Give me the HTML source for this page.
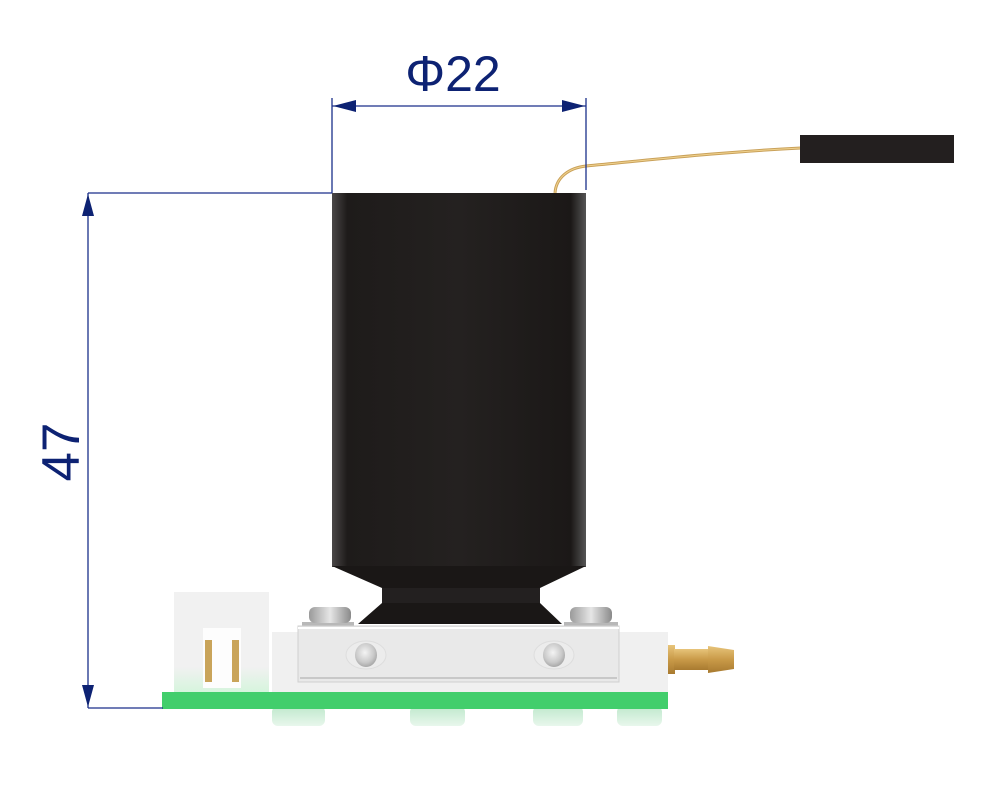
<!DOCTYPE html>
<html><head><meta charset="utf-8"><style>
html,body{margin:0;padding:0;background:#fff;width:1000px;height:800px;overflow:hidden}
svg{display:block}
</style></head><body>
<svg width="1000" height="800" viewBox="0 0 1000 800" xmlns="http://www.w3.org/2000/svg">
<defs>
<linearGradient id="cyl" x1="0" x2="1" y1="0" y2="0">
<stop offset="0" stop-color="#4a4747"/><stop offset="0.06" stop-color="#1e1b1a"/>
<stop offset="0.5" stop-color="#242120"/><stop offset="0.94" stop-color="#1b1817"/><stop offset="1" stop-color="#555"/>
</linearGradient>
<linearGradient id="brass" x1="0" x2="0" y1="0" y2="1">
<stop offset="0" stop-color="#e7c47a"/><stop offset="0.5" stop-color="#c99a48"/><stop offset="1" stop-color="#a87a30"/>
</linearGradient>
<linearGradient id="scr" x1="0" x2="1" y1="0" y2="0">
<stop offset="0" stop-color="#9a9a9a"/><stop offset="0.5" stop-color="#e6e6e6"/><stop offset="1" stop-color="#8a8a8a"/>
</linearGradient>
<linearGradient id="foot" x1="0" x2="0" y1="0" y2="1">
<stop offset="0" stop-color="#bfe8cc"/><stop offset="1" stop-color="#e8f7ec"/>
</linearGradient>
<linearGradient id="hous" x1="0" x2="0" y1="0" y2="1">
<stop offset="0.75" stop-color="#f1f1f1"/><stop offset="1" stop-color="#d6f5dd"/>
</linearGradient>
<radialGradient id="bump" cx="0.45" cy="0.4" r="0.6">
<stop offset="0" stop-color="#f4f4f4"/><stop offset="0.7" stop-color="#c8c8c8"/><stop offset="1" stop-color="#a8a8a8"/>
</radialGradient>
</defs>

<!-- wire -->
<path d="M555,193 C556,178 568,168 586,166 C650,160 720,152 801,148" fill="none" stroke="#c9a15a" stroke-width="3"/>
<path d="M555,193 C556,178 568,168 586,166 C650,160 720,152 801,148" fill="none" stroke="#f0d28e" stroke-width="1"/>
<rect x="800" y="135" width="154" height="28" fill="#231f1f"/>

<!-- feet -->
<rect x="272" y="706" width="53" height="20" rx="6" fill="url(#foot)"/>
<rect x="410" y="706" width="55" height="20" rx="6" fill="url(#foot)"/>
<rect x="533" y="706" width="50" height="20" rx="6" fill="url(#foot)"/>
<rect x="617" y="706" width="45" height="20" rx="6" fill="url(#foot)"/>

<!-- connector housing -->
<rect x="174" y="592" width="95" height="100" fill="url(#hous)"/>
<rect x="203" y="628" width="38" height="60" fill="#fdfdfd"/>
<rect x="205" y="640" width="7" height="42" fill="#c9a45a"/>
<rect x="232" y="640" width="7" height="42" fill="#c9a45a"/>

<!-- white block -->
<rect x="272" y="632" width="396" height="60" fill="#f0f0f0"/>

<!-- brass barb -->
<rect x="668" y="645" width="7" height="29" fill="url(#brass)"/>
<rect x="674" y="649" width="36" height="21" fill="url(#brass)"/>
<polygon points="708,646 734,650 734,669 708,673" fill="url(#brass)"/>

<!-- black body -->
<rect x="332" y="193" width="254" height="374" fill="url(#cyl)"/>
<polygon points="332,566 586,566 540,588 540,603 562,624 358,624 382,603 382,588" fill="#1a1716"/>
<rect x="382" y="588" width="158" height="15" fill="#232020"/>

<!-- screws -->
<rect x="302" y="622" width="52" height="4" fill="#b8b8b8"/>
<rect x="309" y="607" width="42" height="16" rx="6" fill="url(#scr)"/>
<rect x="564" y="622" width="54" height="4" fill="#b8b8b8"/>
<rect x="570" y="607" width="42" height="16" rx="6" fill="url(#scr)"/>

<!-- aluminium plate -->
<rect x="298" y="626" width="321" height="56" fill="#e9e9e9" stroke="#cfcfcf" stroke-width="1"/>
<line x1="298" y1="628" x2="619" y2="628" stroke="#fff" stroke-width="2"/>
<line x1="300" y1="678" x2="617" y2="678" stroke="#bdbdbd" stroke-width="1.5"/>
<ellipse cx="366" cy="655" rx="20" ry="14" fill="#ececec" stroke="#ddd"/>
<ellipse cx="366" cy="655" rx="11" ry="12" fill="url(#bump)"/>
<ellipse cx="554" cy="655" rx="20" ry="14" fill="#ececec" stroke="#ddd"/>
<ellipse cx="554" cy="655" rx="11" ry="12" fill="url(#bump)"/>

<!-- PCB -->
<rect x="162" y="692" width="506" height="17" fill="#42ce6c"/>

<!-- dimensions -->
<g stroke="#1a2f8a" stroke-width="1.3" fill="none">
<line x1="332" y1="98" x2="332" y2="193"/>
<line x1="586" y1="98" x2="586" y2="190"/>
<line x1="332" y1="106" x2="586" y2="106"/>
<line x1="88" y1="193" x2="332" y2="193"/>
<line x1="88" y1="708" x2="163" y2="708"/>
<line x1="88" y1="193" x2="88" y2="708"/>
</g>
<g fill="#0d2273">
<polygon points="333,106 356,100 356,112"/>
<polygon points="585,106 562,100 562,112"/>
<polygon points="88,194 82,216 94,216"/>
<polygon points="88,707 82,685 94,685"/>
</g>
<text x="453" y="91" text-anchor="middle" font-family="Liberation Sans, sans-serif" font-size="50" fill="#0d2273">Φ22</text>
<text transform="translate(79,452) rotate(-90)" text-anchor="middle" font-family="Liberation Sans, sans-serif" font-size="53" fill="#0d2273">47</text>
</svg>
</body></html>
